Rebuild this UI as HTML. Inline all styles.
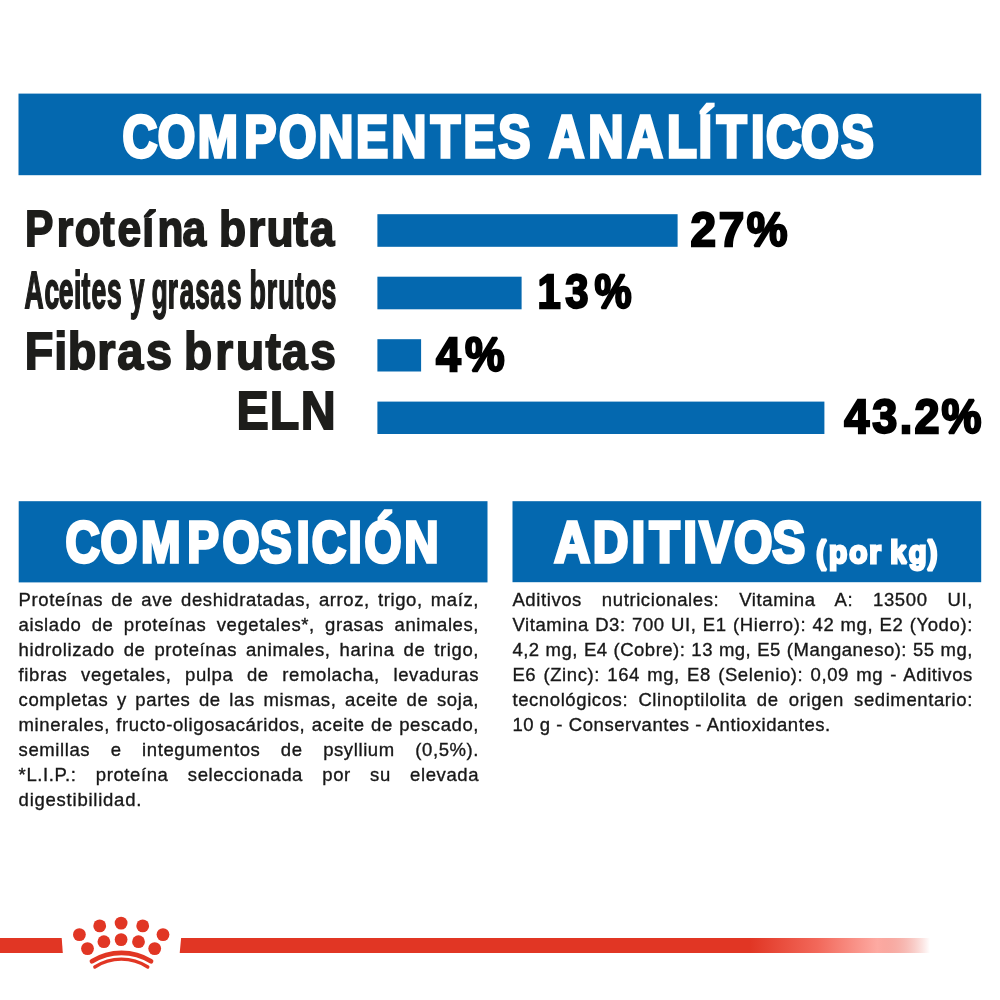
<!DOCTYPE html>
<html lang="es">
<head>
<meta charset="utf-8">
<title>Componentes analíticos</title>
<style>
html,body{margin:0;padding:0;background:#fff;}
body{width:1000px;height:1000px;position:relative;overflow:hidden;font-family:"Liberation Sans",sans-serif;}
svg{position:absolute;left:0;top:0;display:block;}
.t{font-family:"Liberation Sans",sans-serif;font-weight:bold;stroke-linejoin:miter;stroke-miterlimit:2;}
.col{position:absolute;width:460.5px;font-size:18.5px;line-height:25px;letter-spacing:0.6px;color:#181818;-webkit-text-stroke:0.35px #181818;}
.col p{margin:0;white-space:nowrap;text-align:justify;text-align-last:justify;height:25px;}
.col p.last{text-align:left;text-align-last:left;}
</style>
</head>
<body>
<svg width="1000" height="1000" viewBox="0 0 1000 1000">
<defs>
<linearGradient id="fade" gradientUnits="userSpaceOnUse" x1="180" y1="0" x2="930" y2="0">
<stop offset="0" stop-color="#e13624"/>
<stop offset="0.76" stop-color="#e13624"/>
<stop offset="0.85" stop-color="#f2685a"/>
<stop offset="0.93" stop-color="#fdaaa2"/>
<stop offset="1" stop-color="#e13624" stop-opacity="0"/>
</linearGradient>
</defs>
<rect x="18.5" y="93.6" width="962.7" height="81.6" fill="#0468af"/>
<text class="t" transform="scale(0.8250,1)" x="148.44 191.13 239.67 295.93 338.04 386.20 431.47 474.68 522.15 561.77 603.85" y="156.90" font-size="58.43" fill="#fff" stroke="#fff" stroke-width="3.40">COMPONENTES</text>
<text class="t" transform="scale(0.8360,1)" x="656.58 703.80 750.72 797.85 835.46 857.39 898.23 916.31 958.18 1006.18" y="156.90" font-size="58.43" fill="#fff" stroke="#fff" stroke-width="3.40">ANALÍTICOS</text>
<rect x="377.4" y="214.2" width="300.2" height="32.6" fill="#0468af"/>
<rect x="377.4" y="276.7" width="144.2" height="32.6" fill="#0468af"/>
<rect x="377.4" y="339.2" width="43.7" height="32.3" fill="#0468af"/>
<rect x="377.4" y="401.6" width="447.0" height="32.4" fill="#0468af"/>
<text class="t" transform="scale(0.8360,1)" x="30.05 68.00 89.49 120.12 140.52 170.27 188.32 218.45" y="246.50" font-size="50.87" fill="#1d1d1b" stroke="#1d1d1b" stroke-width="1.80">Proteína</text>
<text class="t" transform="scale(0.8712,1)" x="251.50 284.72 305.95 336.68 355.69" y="246.50" font-size="50.87" fill="#1d1d1b" stroke="#1d1d1b" stroke-width="1.80">bruta</text>
<text class="t" transform="scale(0.5173,1)" x="47.48 86.04 113.71 142.92 157.72 176.92 206.77" y="307.60" font-size="51.16" fill="#1d1d1b" stroke="#1d1d1b" stroke-width="1.80">Aceites</text>
<text class="t" transform="scale(0.5063,1)" x="256.90" y="307.60" font-size="51.16" fill="#1d1d1b" stroke="#1d1d1b" stroke-width="1.80">y</text>
<text class="t" transform="scale(0.5101,1)" x="297.43 329.08 352.34 382.71 412.23 445.15" y="307.60" font-size="51.16" fill="#1d1d1b" stroke="#1d1d1b" stroke-width="1.80">grasas</text>
<text class="t" transform="scale(0.5220,1)" x="477.74 511.10 533.18 565.18 584.90 615.86" y="307.60" font-size="51.16" fill="#1d1d1b" stroke="#1d1d1b" stroke-width="1.80">brutos</text>
<text class="t" transform="scale(0.9176,1)" x="27.07 59.03 73.86 106.04 127.72 159.19" y="368.60" font-size="51.02" fill="#1d1d1b" stroke="#1d1d1b" stroke-width="1.80">Fibras</text>
<text class="t" transform="scale(0.9031,1)" x="203.76 238.43 261.35 293.86 312.23 343.41" y="368.60" font-size="51.02" fill="#1d1d1b" stroke="#1d1d1b" stroke-width="1.80">brutas</text>
<text class="t" transform="scale(0.9172,1)" x="257.74 294.00 327.96" y="429.40" font-size="52.76" fill="#1d1d1b" stroke="#1d1d1b" stroke-width="1.80">ELN</text>
<text class="t" transform="scale(0.9477,1)" x="728.59 758.45 788.07" y="245.85" font-size="48.40" fill="#000" stroke="#000" stroke-width="2.30">27%</text>
<text class="t" transform="scale(0.8583,1)" x="626.15 658.44 692.69" y="308.25" font-size="48.69" fill="#000" stroke="#000" stroke-width="2.30">13%</text>
<text class="t" transform="scale(0.9268,1)" x="470.53 501.63" y="370.65" font-size="48.11" fill="#000" stroke="#000" stroke-width="2.30">4%</text>
<text class="t" transform="scale(0.9314,1)" x="906.42 936.44 965.89 981.77 1010.74" y="432.95" font-size="48.26" fill="#000" stroke="#000" stroke-width="2.30">43.2%</text>
<rect x="18.7" y="501.2" width="468.8" height="81.2" fill="#0468af"/>
<text class="t" transform="scale(0.8344,1)" x="78.51 120.49 168.87 224.56 266.71 311.72 355.47 373.70 417.79 436.90 484.61" y="561.90" font-size="56.98" fill="#fff" stroke="#fff" stroke-width="3.40">COMPOSICIÓN</text>
<rect x="512.5" y="501.2" width="468.7" height="81" fill="#0468af"/>
<text class="t" transform="scale(0.8680,1)" x="638.65 682.83 727.65 748.33 787.20 805.84 845.68 889.83" y="561.90" font-size="56.98" fill="#fff" stroke="#fff" stroke-width="3.40">ADITIVOS</text>
<text class="t" transform="scale(0.9263,1)" x="881.17 894.84 916.83 938.37" y="562.60" font-size="32.20" fill="#fff" stroke="#fff" stroke-width="2.80">(por</text>
<text class="t" transform="scale(0.9033,1)" x="985.56 1005.94 1027.06" y="562.60" font-size="32.20" fill="#fff" stroke="#fff" stroke-width="2.80">kg)</text>
<polygon points="0,938.1 61.7,938.1 62.8,952.9 0,952.9" fill="#e13624"/>
<polygon points="181.1,938.1 930,938.1 930,952.9 179.7,952.9" fill="url(#fade)"/>
<g fill="#e13624"><circle cx="99.7" cy="925.9" r="6.4"/><circle cx="121.1" cy="923.1" r="6.4"/><circle cx="142.7" cy="925.9" r="6.4"/><circle cx="79.4" cy="934.6" r="6.4"/><circle cx="163.0" cy="934.6" r="6.4"/><circle cx="103.9" cy="941.7" r="6.4"/><circle cx="121.1" cy="939.6" r="6.4"/><circle cx="138.5" cy="941.7" r="6.4"/><circle cx="87.5" cy="948.6" r="6.4"/><circle cx="154.7" cy="948.6" r="6.4"/></g>
<path d="M92 961.3 A56 56 0 0 1 151 961.3" fill="none" stroke="#e13624" stroke-width="4.8" stroke-linecap="round"/>
<path d="M94.8 967 A48.6 48.6 0 0 1 147.8 967" fill="none" stroke="#e13624" stroke-width="3.3" stroke-linecap="round"/>
</svg>
<div class="col" style="left:18.6px;top:587px;">
<p>Proteínas de ave deshidratadas, arroz, trigo, maíz,</p>
<p>aislado de proteínas vegetales*, grasas animales,</p>
<p>hidrolizado de proteínas animales, harina de trigo,</p>
<p>fibras vegetales, pulpa de remolacha, levaduras</p>
<p>completas y partes de las mismas, aceite de soja,</p>
<p>minerales, fructo-oligosacáridos, aceite de pescado,</p>
<p>semillas e integumentos de psyllium (0,5%).</p>
<p>*L.I.P.: proteína seleccionada por su elevada</p>
<p class="last" style="letter-spacing:0.76px">digestibilidad.</p>
</div>
<div class="col" style="left:512.4px;top:587px;">
<p>Aditivos nutricionales: Vitamina A: 13500 UI,</p>
<p>Vitamina D3: 700 UI, E1 (Hierro): 42 mg, E2 (Yodo):</p>
<p style="letter-spacing:0.5px">4,2 mg, E4 (Cobre): 13 mg, E5 (Manganeso): 55 mg,</p>
<p>E6 (Zinc): 164 mg, E8 (Selenio): 0,09 mg - Aditivos</p>
<p>tecnológicos: Clinoptilolita de origen sedimentario:</p>
<p class="last" style="letter-spacing:0.56px">10 g - Conservantes - Antioxidantes.</p>
</div>
</body>
</html>
